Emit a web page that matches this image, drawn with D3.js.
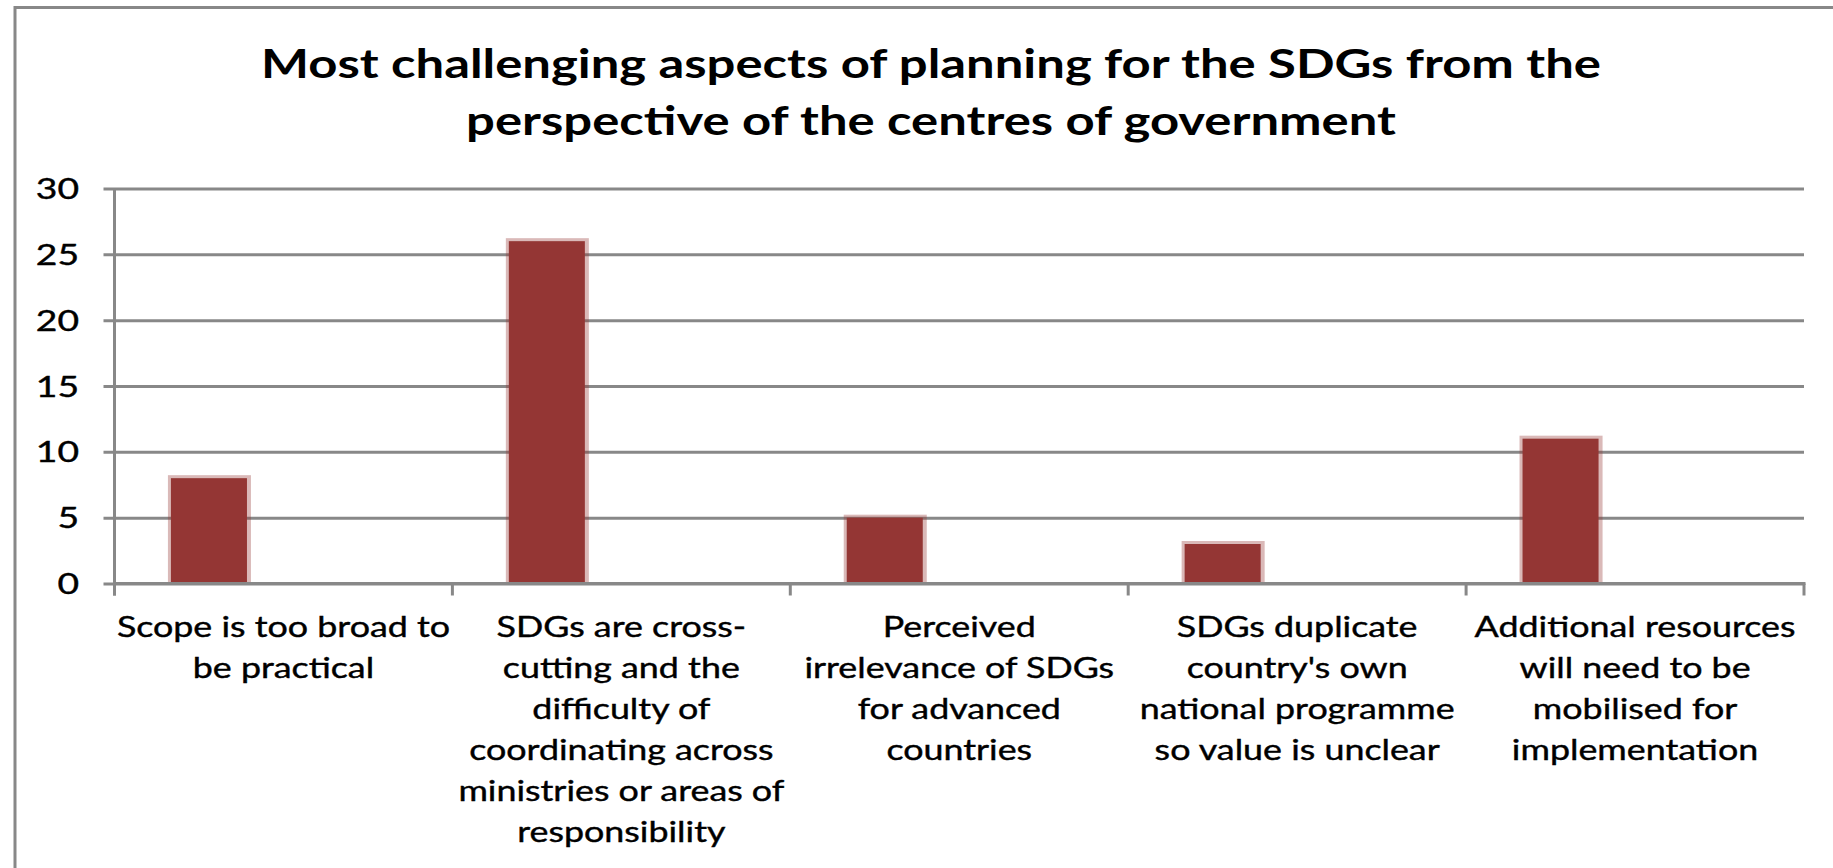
<!DOCTYPE html>
<html>
<head>
<meta charset="utf-8">
<script src="https://cdn.jsdelivr.net/npm/d3@7"></script>
<style>
  html, body { margin: 0; padding: 0; background: #fff; }
  svg { display: block; }
  text { font-family: Lato, "Open Sans", sans-serif; fill: #000; }
</style>
</head>
<body>
<svg id="chart" width="1833" height="868"></svg>
<script>
// Survey counts per challenge
const categories = [
  "Scope is too broad to be practical",
  "SDGs are cross-cutting and the difficulty of coordinating across ministries or areas of responsibility",
  "Perceived irrelevance of SDGs for advanced countries",
  "SDGs duplicate country's own national programme so value is unclear",
  "Additional resources will need to be mobilised for implementation"
];
const values = [8, 26, 5, 3, 11];
const categoryLines = [
  ["Scope is too broad to", "be practical"],
  ["SDGs are cross-", "cutting and the", "difficulty of", "coordinating across", "ministries or areas of", "responsibility"],
  ["Perceived", "irrelevance of SDGs", "for advanced", "countries"],
  ["SDGs duplicate", "country's own", "national programme", "so value is unclear"],
  ["Additional resources", "will need to be", "mobilised for", "implementation"]
];
const yTicks = [0, 5, 10, 15, 20, 25, 30];
const titleLines = [
  "Most challenging aspects of planning for the SDGs from the",
  "perspective of the centres of government"
];

const svg = d3.select("#chart");
const W = 1833, H = 868;
const plot = { left: 114.5, right: 1804, top: 188.5, bottom: 583.5 };
const gridColor = "#888888";
const barColor = "#943634";
// Wide-set lettering: glyphs are stretched horizontally about their anchor
const stretch = { title: 1.27, label: 1.28, tick: 1.33 };

// Outer frame (top and left edges visible)
svg.append("path")
  .attr("d", `M15,${H} L15,7.5 L${W},7.5`)
  .attr("fill", "none")
  .attr("stroke", gridColor)
  .attr("stroke-width", 3);

// Title
svg.append("g").selectAll("text")
  .data(titleLines)
  .join("text")
  .attr("transform", (d, i) => `translate(931,${78 + i * 57}) scale(${stretch.title},1)`)
  .attr("text-anchor", "middle")
  .attr("font-weight", "bold")
  .attr("font-size", 40)
  .text(d => d);

const x = d3.scaleBand()
  .domain(categories)
  .range([plot.left, plot.right]);

const y = d3.scaleLinear()
  .domain([0, 30])
  .range([plot.bottom, plot.top]);

// Horizontal gridlines
const gridLen = plot.right - plot.left + 11;
const yAxis = d3.axisLeft(y)
  .tickValues(yTicks)
  .tickSize(gridLen)
  .tickPadding(0)
  .tickFormat(d3.format("d"));

const yg = svg.append("g")
  .attr("transform", `translate(${plot.right},0)`)
  .call(yAxis);
yg.select(".domain").remove();
yg.selectAll(".tick line")
  .attr("stroke", gridColor)
  .attr("stroke-width", 3)
  .attr("x1", 0)
  .attr("x2", -gridLen);
// Value labels at the left, right-aligned
yg.selectAll(".tick text")
  .attr("x", null)
  .attr("dy", null)
  .attr("transform", `translate(${79 - plot.right},10) scale(${stretch.tick},1)`)
  .attr("font-size", 28)
  .attr("text-anchor", "end")
  .style("font-family", "Lato, sans-serif")
  .style("fill", "#000")
  .style("stroke", "#000")
  .style("stroke-width", 0.4);

// Vertical axis line
svg.append("line")
  .attr("x1", plot.left).attr("x2", plot.left)
  .attr("y1", plot.top).attr("y2", plot.bottom + 12)
  .attr("stroke", gridColor)
  .attr("stroke-width", 3);

// Bars: translucent fringe beneath the solid column
const bw = x.bandwidth();
const barOffset = bw * 0.167;
const barWidth = bw * 0.225;

const bars = svg.append("g");
bars.selectAll("rect.fringe")
  .data(values)
  .join("rect")
  .attr("class", "fringe")
  .attr("x", (d, i) => x(categories[i]) + barOffset - 3)
  .attr("y", d => y(d) - 3)
  .attr("width", barWidth + 7)
  .attr("height", d => plot.bottom - y(d) + 3)
  .attr("fill", barColor)
  .attr("fill-opacity", 0.35);
bars.selectAll("rect.bar")
  .data(values)
  .join("rect")
  .attr("class", "bar")
  .attr("x", (d, i) => x(categories[i]) + barOffset)
  .attr("y", d => y(d))
  .attr("width", barWidth)
  .attr("height", d => plot.bottom - y(d))
  .attr("fill", barColor);

// Category axis: baseline plus boundary ticks
const xg = svg.append("g");
xg.append("line")
  .attr("x1", plot.left).attr("x2", plot.right + 1.5)
  .attr("y1", plot.bottom).attr("y2", plot.bottom)
  .attr("stroke", gridColor)
  .attr("stroke-width", 3);
const bounds = categories.map(c => x(c)).concat([plot.right]);
xg.selectAll("line.tick")
  .data(bounds)
  .join("line")
  .attr("class", "tick")
  .attr("x1", d => d).attr("x2", d => d)
  .attr("y1", plot.bottom).attr("y2", plot.bottom + 12)
  .attr("stroke", gridColor)
  .attr("stroke-width", 3);

// Wrapped category labels, centred under each band
svg.append("g").selectAll("g")
  .data(categoryLines)
  .join("g")
  .each(function (lines, i) {
    const cx = x(categories[i]) + bw / 2;
    d3.select(this).selectAll("text")
      .data(lines)
      .join("text")
      .attr("transform", (l, j) => `translate(${cx},${637 + j * 41}) scale(${stretch.label},1)`)
      .attr("text-anchor", "middle")
      .attr("font-size", 28)
      .attr("stroke", "#000")
      .attr("stroke-width", 0.4)
      .text(l => l);
  });
</script>
</body>
</html>
